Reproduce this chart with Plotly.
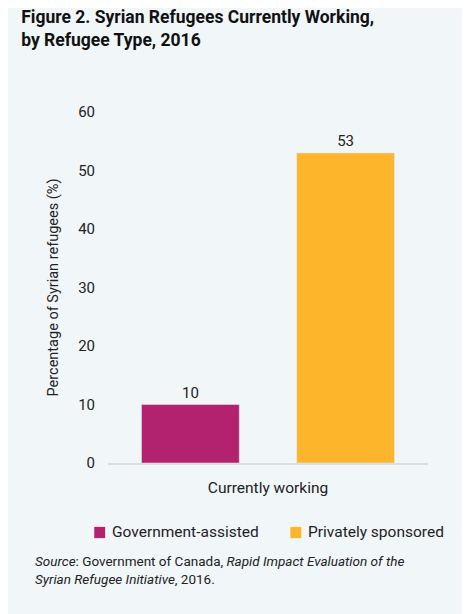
import plotly.graph_objects as go

categories = ["Currently working"]
series_names = ["Government-assisted", "Privately sponsored"]
series_values = [[10], [53]]
colors = ["#b3226f", "#fdb52b"]
y_ticks = [0, 10, 20, 30, 40, 50, 60]

FONT = "Roboto, sans-serif"
BG = "#f1f6f9"

fig = go.Figure()
for name, vals, c in zip(series_names, series_values, colors):
    fig.add_trace(go.Bar(
        x=categories, y=vals, name=name, marker_color=c,
        text=vals, textposition="outside", cliponaxis=False,
        textfont=dict(size=15, color="#222"), showlegend=False,
    ))

# hand-made legend (plotly's horizontal legend kept wrapping)
legend_x = [-0.043, 0.57]
shapes = []
annotations = []
for name, c, lx in zip(series_names, colors, legend_x):
    shapes.append(dict(type="rect", xref="paper", yref="paper",
                       x0=lx, x1=lx + 0.034, y0=-0.214, y1=-0.182,
                       fillcolor=c, line_width=0))
    annotations.append(dict(text=name, xref="paper", yref="paper",
                            x=lx + 0.05, xanchor="left", y=-0.198, yanchor="middle",
                            showarrow=False, font=dict(size=15.5)))

annotations.append(dict(
    text="<i>Source</i>: Government of Canada, <i>Rapid Impact Evaluation of the</i><br>"
         "<i>Syrian Refugee Initiative</i>, 2016.",
    xref="paper", yref="paper", x=-0.234, xanchor="left", y=-0.25, yanchor="top",
    showarrow=False, align="left", font=dict(size=13.5),
))

fig.update_layout(
    width=470, height=614,
    paper_bgcolor=BG, plot_bgcolor=BG,
    font=dict(family=FONT, color="#222", size=15),
    barmode="group", bargap=0.03, bargroupgap=0.37,
    margin=dict(l=100, r=50, t=104, b=159),
    title=dict(
        text="<b>Figure 2. Syrian Refugees Currently Working,<br>by Refugee Type, 2016</b>",
        x=0.028, xanchor="left", y=0.975, yanchor="top",
        font=dict(size=17.5, color="#111"),
    ),
    yaxis=dict(
        range=[0, 60], tickvals=y_ticks, showgrid=False, zeroline=False,
        ticks="", ticklabelstandoff=12,
        title=dict(text="Percentage of Syrian refugees (%)", font=dict(size=14.5), standoff=16),
    ),
    xaxis=dict(showline=True, linecolor="#dadfe3", linewidth=1.5, ticks="",
               tickfont=dict(size=15.5), ticklabelstandoff=10),
    shapes=shapes,
    annotations=annotations,
)

fig.write_html("out.html")
